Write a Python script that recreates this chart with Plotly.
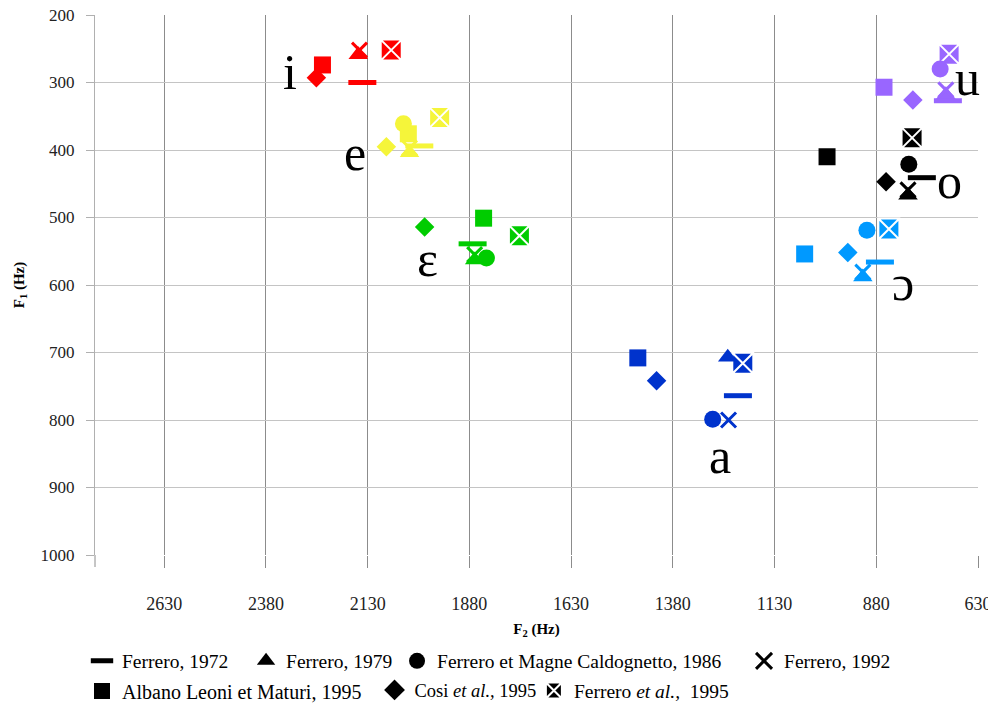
import plotly.graph_objects as go

vowels = ["i", "e", "ɛ", "a", "ɔ", "o", "u"]
vowel_colors = ["#FF0000", "#F5F53A", "#00CC00", "#0033CC", "#0099FF", "#000000", "#9966FF"]

# label positions (F2, F1) for vowel symbols
label_f2 = [2322, 2160, 1983, 1265, 815, 699, 655]
label_f1 = [285, 405, 561, 854, 597, 446, 293]

studies = ["Ferrero, 1972", "Ferrero, 1979", "Ferrero et Magne Caldognetto, 1986", "Ferrero, 1992",
           "Albano Leoni et Maturi, 1995", "Cosi <i>et al.,</i> 1995",
           "Ferrero <i>et al.,</i>&nbsp; 1995"]

f2_1972 = [2143, 2003, 1872, 1220, 871, 768, 704]
f1_1972 = [300, 394, 539, 764, 566, 441, 327]
f2_1979 = [2153, 2027, 1867, 1245, 913, 802, 709]
f1_1979 = [259, 404, 563, 707, 588, 467, 318]
f2_1986 = [None, 2042, 1838, 1282, 903, 800, 723]
f1_1986 = [None, 361, 560, 799, 519, 421, 280]
f2_1992 = [2150, 2027, 1867, 1243, 913, 802, 709]
f1_1992 = [252, 397, 555, 800, 581, 459, 311]
f2_albano = [2241, 2030, 1845, 1466, 1056, 1001, 861]
f1_albano = [274, 376, 501, 708, 554, 410, 307]
f2_cosi = [2256, 2084, 1990, 1420, 950, 856, 790]
f1_cosi = [293, 395, 514, 742, 552, 447, 326]
f2_fer95 = [2072, 1953, 1757, 1208, 849, 792, 701]
f1_fer95 = [252, 352, 527, 716, 517, 382, 258]

x_ticks = [2630, 2380, 2130, 1880, 1630, 1380, 1130, 880, 630]
y_ticks = [200, 300, 400, 500, 600, 700, 800, 900, 1000]

serif = "Liberation Serif, Times New Roman, serif"

# marker styles per study (symbol, size, line width, line colour override)
styles = [
    ("line-ew", 20, 5, None),
    ("triangle-up", 17, 0, None),
    ("circle", 17, 0, None),
    ("x-thin", 15, 3, None),
    ("square", 17, 0, None),
    ("diamond", 15, 0, None),
    ("square-x", 21, 2, "white"),
]
data = [(f2_1972, f1_1972), (f2_1979, f1_1979), (f2_1986, f1_1986), (f2_1992, f1_1992),
        (f2_albano, f1_albano), (f2_cosi, f1_cosi), (f2_fer95, f1_fer95)]

# legend entry placement (container fractions): row 1 then row 2
legend_x = [0.0743, 0.239, 0.3906, 0.739, 0.0743, 0.368, 0.528]
legend_y = [0.105, 0.105, 0.105, 0.105, 0.063, 0.063, 0.063]
legend_fs = [19.5, 19.5, 19.5, 19.5, 20, 18.5, 19.5]

fig = go.Figure()

# draw order (back to front)
draw_order = [4, 5, 6, 2, 1, 3, 0]
for k in draw_order:
    sym, size, lw, lcol = styles[k]
    f2, f1 = data[k]
    fig.add_trace(go.Scatter(
        x=f2, y=f1, mode="markers", showlegend=False, name=studies[k],
        marker=dict(symbol=sym, size=size, color=vowel_colors,
                    line=dict(color=lcol if lcol else vowel_colors, width=lw)),
    ))

legend_layout = {}
for k in range(7):
    sym, size, lw, lcol = styles[k]
    lsize = {"line-ew": 18, "triangle-up": 18, "circle": 18, "x-thin": 16,
             "square": 18, "diamond": 16, "square-x": 18}[sym]
    lname = "legend" if k == 0 else f"legend{k + 1}"
    fig.add_trace(go.Scatter(
        x=[None], y=[None], mode="markers", name=studies[k], legend=lname,
        marker=dict(symbol=sym, size=lsize, color="black",
                    line=dict(color="white" if lcol == "white" else "black",
                              width=lw if lw else 0)),
    ))
    legend_layout[lname] = dict(
        orientation="h", xref="container", yref="container",
        x=legend_x[k], y=legend_y[k], xanchor="left", yanchor="top",
        font=dict(family=serif, size=legend_fs[k], color="black"),
        itemsizing="trace", bgcolor="rgba(0,0,0,0)")

for v, lx, ly in zip(vowels, label_f2, label_f1):
    fig.add_annotation(x=lx, y=ly, text=v, showarrow=False,
                       font=dict(family=serif, size=50, color="black"),
                       xanchor="center", yanchor="middle")

# tick at the left end of the x axis
fig.add_shape(type="line", xref="paper", yref="paper", x0=0, x1=0, y0=0, y1=-12 / 540,
              line=dict(color="#8C8C8C", width=1))

fig.update_layout(
    width=996, height=708,
    margin=dict(l=87, r=26, t=7, b=161, autoexpand=False),
    paper_bgcolor="white", plot_bgcolor="white",
    font=dict(family=serif, color="black"),
    xaxis=dict(
        range=[2800, 630], tickvals=x_ticks, ticktext=[str(t) for t in x_ticks],
        showgrid=True, gridcolor="#8C8C8C", gridwidth=1,
        ticks="outside", ticklen=12, tickcolor="#8C8C8C", ticklabelstandoff=20,
        tickfont=dict(family=serif, size=18, color="#222"), ticklabeloverflow="allow",
        showline=False, zeroline=False, automargin=False,
        title=dict(text="<b>F<sub>2</sub> (Hz)</b>", font=dict(family=serif, size=15), standoff=10),
    ),
    yaxis=dict(
        range=[1000, 200], tickvals=y_ticks,
        showgrid=True, gridcolor="#C4C4C4", gridwidth=1,
        ticks="outside", ticklen=8, tickcolor="#B0B0B0", ticklabelstandoff=8,
        tickfont=dict(family=serif, size=17, color="#222"), ticklabeloverflow="allow",
        showline=True, linecolor="#B0B0B0", linewidth=1, zeroline=False, automargin=False,
        title=dict(text="<b>F<sub>1</sub> (Hz)</b>", font=dict(family=serif, size=15), standoff=12),
    ),
    **legend_layout,
)

fig.write_html("out.html")
